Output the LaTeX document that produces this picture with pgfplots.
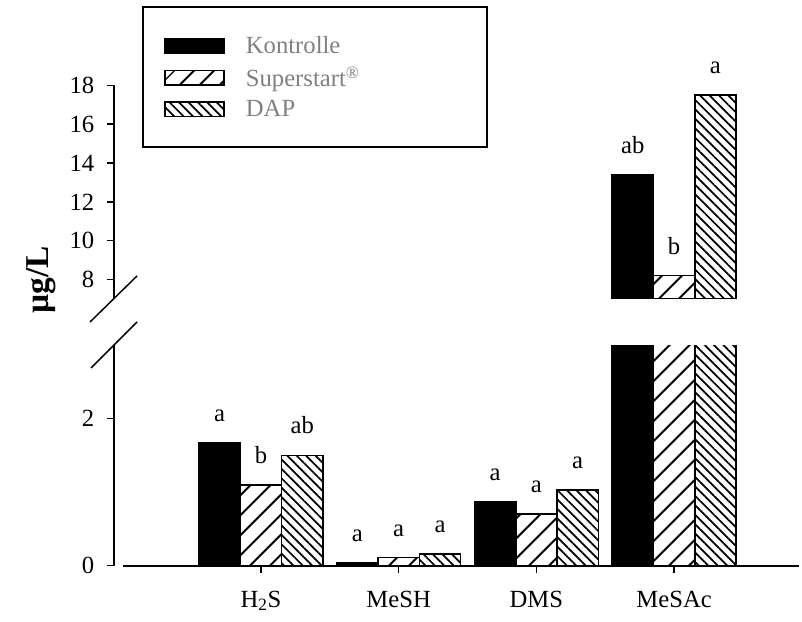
\documentclass[border=0pt]{standalone}
\usepackage{fontspec}
\setmainfont{Liberation Serif}
\usepackage{pgfplots}
\pgfplotsset{compat=1.18}
\usepackage{pgfplotstable}
\usetikzlibrary{patterns.meta}
\definecolor{lgray}{gray}{0.5}
\newcommand{\lblfont}{\fontsize{18.5}{20}\selectfont}

\pgfplotstableread{
x k kl s sl d dl
0 1.67 a 1.10 b 1.50 ab
1 0.04 a 0.11 a 0.16 a
2 0.87 a 0.70 a 1.03 a
3 13.4 {} 8.2 {} 17.5 {}
}\lowtab
\pgfplotstableread{
x k kl s sl d dl
3 13.4 ab 8.2 b 17.5 a
}\uptab

\pgfplotsset{
 commonax/.style={
  scale only axis, width=513.75pt, xmin=-1.0675, xmax=3.907,
  enlargelimits=false,
  ybar, bar width=0.3,
  axis y line*=left, tick align=outside,
  major tick length=5.25pt,
  tick style={line width=1.1pt, black},
  axis line style={line width=1.2pt},
  every tick label/.append style={font=\lblfont},
  xticklabel style={font=\lblfont},
  yticklabel style={font=\lblfont, xshift=-6pt},
  /pgf/number format/assume math mode=true,
  point meta=explicit symbolic,
  nodes near coords,
  every node near coord/.append style={font=\lblfont, yshift=12pt, text=black},
 },
 lgd/.style={legend image code/.code={\draw[##1] (0pt,-5.6pt) rectangle (44pt,5.6pt);}},
 kon/.style={fill=black, draw=black, line width=1.2pt, bar shift=-0.3, lgd},
 sup/.style={draw=black, line width=1.2pt, pattern={Lines[angle=45,distance=10.5pt,line width=1.6pt]}, bar shift=0, lgd},
 dap/.style={draw=black, line width=1.2pt, pattern={Lines[angle=-45,distance=5pt,line width=1.3pt]}, bar shift=0.3, lgd},
}

\begin{document}
\begin{tikzpicture}
\path[use as bounding box] (0,0) rectangle (601.5pt,465.75pt);

% lower axis
\begin{axis}[commonax, at={(85.5pt,41.475pt)}, anchor=south west,
  height=165.5pt, ymin=0, ymax=3, ytick={0,2},
  axis x line*=bottom, xtick={0,1,2,3},
  xticklabels={H\textsubscript{2}S, MeSH, DMS, MeSAc},
  xticklabel style={yshift=-10pt},
  x axis line style={shorten <=6.75pt}]
\addplot[kon] table[x=x, y=k, meta=kl] {\lowtab};
\addplot[sup] table[x=x, y=s, meta=sl] {\lowtab};
\addplot[dap] table[x=x, y=d, meta=dl] {\lowtab};
\end{axis}

% upper axis
\begin{axis}[commonax, at={(85.5pt,241.5pt)}, anchor=south west,
  height=160.3pt, ymin=7, ymax=18, ytick={8,10,...,18},
  axis x line=none,
  legend style={at={(0.0672,1.2547)}, anchor=north west, draw=none, fill=none,
    font=\lblfont, text=lgray, row sep=4.5pt,
    /tikz/column sep=14pt},
  legend cell align=left]
\addplot[kon] table[x=x, y=k, meta=kl] {\uptab};
\addlegendentry{Kontrolle}
\addplot[sup] table[x=x, y=s, meta=sl] {\uptab};
\addlegendentry{Superstart\textsuperscript{®}}
\addplot[dap] table[x=x, y=d, meta=dl] {\uptab};
\addlegendentry{DAP}
\end{axis}

% legend frame
\draw[line width=1.5pt] (107.25pt,355.5pt) rectangle (365.25pt,460.5pt);
% axis break marks
\draw[line width=1.1pt] (67.5pt,224.25pt) -- (102.75pt,258.75pt);
\draw[line width=1.1pt] (68.25pt,189.75pt) -- (102.75pt,224.25pt);
% y label
\node[rotate=90, font=\bfseries\fontsize{25}{28}\selectfont] at (31pt,255.75pt) {µg/L};
\end{tikzpicture}
\end{document}
